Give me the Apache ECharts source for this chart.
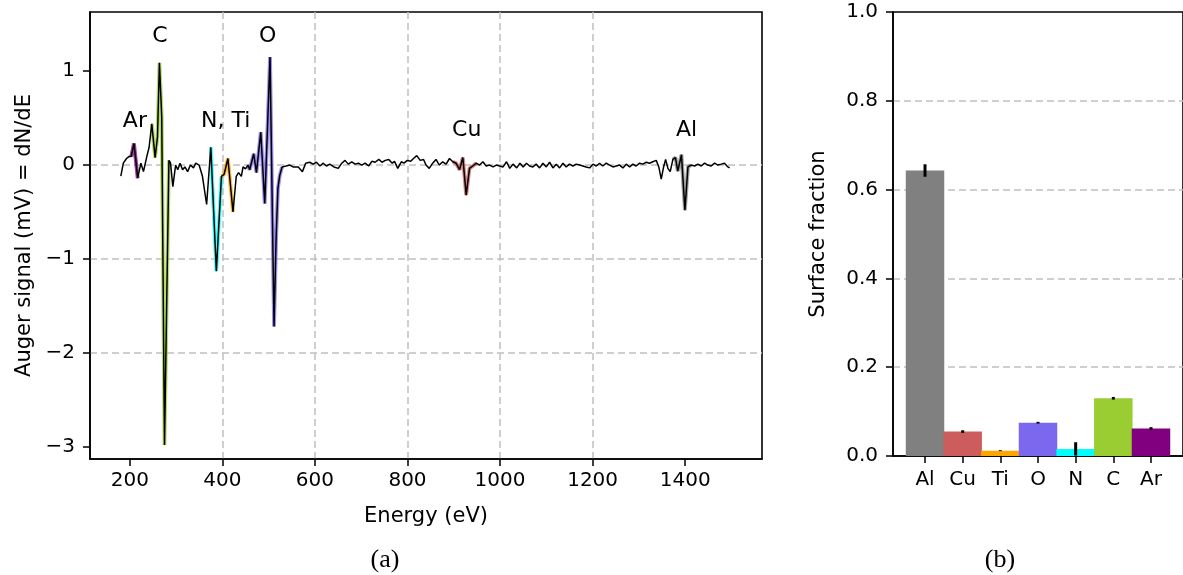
<!DOCTYPE html>
<html>
<head>
<meta charset="utf-8">
<script src="https://cdn.jsdelivr.net/npm/echarts@6/dist/echarts.min.js"></script>
<style>
html,body{margin:0;padding:0;background:#fff;}
#chart{width:1183px;height:575px;}
</style>
</head>
<body>
<div id="chart"></div>
<script>
// ---- Spectrum (a) ----
const energy = [180.6,186,193,198,203,209,213,217,224,229.5,236.7,241.7,247.5,254.7,259.8,264,269,275,284.5,288,293,299,303.6,308.7,314,319,325,331,337.6,342.5,349.7,357,366,375,387,398,403.7,412,423,430,435,441,444.7,450,455.5,459,467.8,473.6,483,491.6,503,511.7,516,520,524,529,537.8,545.6,552.7,556,564,573,580,588.8,596,603.5,610.7,618,625,632,641,650.5,658,665,672,679.6,686.8,694,701,708.7,716,723,730,738,745,752,759.6,767,772,779,786.7,792.5,799.6,807,813,820,827.5,834.7,840,847,854.4,861.6,868.8,876,883.5,890.7,898,905,912.5,919.6,926.8,934,941,948.6,955.8,963,970,977.5,985,992,999,1006.5,1014,1021,1028,1036,1043,1050,1057,1064,1071,1078,1085.5,1092.7,1100,1107,1114.3,1121.5,1128.7,1136,1143,1150,1157.5,1164.7,1172,1179,1186,1193.5,1200.7,1208,1215,1222,1229.5,1236.7,1244,1251,1258,1265.5,1272.7,1280,1287,1294,1301.5,1308.7,1316,1323,1330,1337.5,1343,1348.3,1353.4,1357.7,1362.7,1367.7,1373.5,1379,1384,1392,1399.4,1406,1413,1420.3,1427.5,1434.7,1442,1449,1456.3,1463.5,1470.7,1478,1485,1492.3,1496];
const signal = [-0.117,0.02,0.07,0.09,0.09,0.23,0.05,-0.14,0.02,-0.07,0.09,0.19,0.44,0.08,0.30,1.09,0.51,-2.98,0.05,0.02,-0.23,0.0,-0.05,0.02,-0.05,-0.02,-0.07,0.0,-0.03,0.02,0.0,-0.12,-0.42,0.19,-1.13,-0.12,-0.1,0.07,-0.50,-0.12,-0.08,-0.12,-0.02,-0.04,0.0,-0.05,0.12,-0.08,0.35,-0.41,1.15,-1.72,-0.8,-0.25,-0.11,-0.02,-0.01,0.0,-0.02,-0.035,-0.02,-0.07,0.02,0.03,0.01,0.03,-0.01,0.02,-0.01,0.01,-0.02,-0.035,0.02,0.05,0.01,0.035,0.01,0.02,0,0.02,-0.01,0.04,0.03,0.06,0.03,0.05,0.06,0.02,0.04,-0.035,0.035,0.02,0.05,0.04,0.07,0.10,0.05,0.06,0,-0.035,0.02,0.06,0,0.035,0.01,0.07,0.035,0.02,-0.05,0.08,-0.32,-0.035,-0.01,0.02,0,0.035,-0.01,0,-0.02,0,-0.01,-0.02,0.035,-0.035,0.01,-0.03,0.02,-0.02,0.02,-0.01,-0.02,0.01,-0.03,0.02,-0.02,0.03,-0.03,0.01,-0.03,0.02,-0.02,0.01,-0.01,0.01,0,-0.01,-0.02,-0.03,0.01,-0.01,0.02,-0.01,0.02,0,-0.02,-0.01,0,-0.03,0.01,-0.02,0.01,-0.01,0.02,0.01,0.03,0.02,0.035,0.05,-0.02,-0.15,-0.02,0.06,-0.035,-0.07,0.06,0.08,-0.065,0.11,-0.48,-0.02,0,-0.01,0.01,-0.01,0.02,0,-0.01,0.02,0,0.01,0.02,-0.02,-0.03];

// fitted peak windows (eV)
const peakNames = ['Ar','C','N','Ti','O','Cu','Al'];
const peakLow  = [203,246,370,398,455,898,1370];
const peakHigh = [220,285,398,428,530,950,1416];

// peak annotations
const labelText = ['Ar','C','N, Ti','O','Cu','Al'];
const labelE    = [211,265,407,498,928,1403];
const labelV    = [0.47,1.37,0.47,1.37,0.37,0.37];

const xTicksA = [200,400,600,800,1000,1200,1400];
const yTicksA = [-3,-2,-1,0,1];

// ---- Surface fractions (b) ----
const elements = ['Al','Cu','Ti','O','N','C','Ar'];
const fraction = [0.643,0.055,0.012,0.075,0.016,0.13,0.062];
const fracErr  = [0.014,0.003,0.001,0.002,0.015,0.003,0.003];

// ---- styles ----
const elemColor = {Al:'#808080',Cu:'#cd5c5c',Ti:'#ffa500',O:'#7b68ee',N:'#00ffff',C:'#9acd32',Ar:'#800080'};
const FONT = 'DejaVu Sans';
const TICK_FS = 20, NAME_FS = 21;
const gridLine = {show:true,showMinLine:false,showMaxLine:false,lineStyle:{color:'#c0c0c0',width:1.5,type:[7,4]}};
const axLine = {show:true,onZero:false,lineStyle:{color:'#000',width:1.6}};
const tickStyle = {color:'#000',width:1.5};

const spec = energy.map((e,i)=>[e,signal[i]]);
const peakSeries = peakNames.map((n,k)=>({
  type:'line', xAxisIndex:0, yAxisIndex:0, symbol:'none', silent:true, z:2,
  data: spec.filter(p=>p[0]>=peakLow[k] && p[0]<=peakHigh[k]),
  lineStyle:{color:elemColor[n],width:3.8,opacity:0.75}
}));

const minus = v => String(v).replace('-', '\u2212');

const option = {
  animation:false,
  backgroundColor:'#fff',
  textStyle:{fontFamily:FONT},
  grid:[
    {left:90,top:12,width:672,height:447,show:true,borderColor:'#000',borderWidth:1.6,backgroundColor:'transparent'},
    {left:893,top:12,width:297,height:444,show:true,borderColor:'#000',borderWidth:1.6,backgroundColor:'transparent'}
  ],
  xAxis:[
    {type:'value',gridIndex:0,min:114,max:1566,
     axisLine:axLine,
     axisTick:{show:true,length:7,lineStyle:tickStyle,customValues:xTicksA},
     axisLabel:{customValues:xTicksA,formatter:v=>String(v),color:'#000',fontSize:TICK_FS,fontFamily:FONT,margin:12},
     splitLine:gridLine,
     name:'Energy (eV)',nameLocation:'middle',nameGap:47,nameTextStyle:{color:'#000',fontSize:NAME_FS,fontFamily:FONT}},
    {type:'value',gridIndex:1,min:-0.85,max:6.85,
     axisLine:axLine,
     axisTick:{show:true,length:7,lineStyle:tickStyle,customValues:[0,1,2,3,4,5,6]},
     axisLabel:{customValues:[0,1,2,3,4,5,6],formatter:v=>elements[Math.round(v)],color:'#000',fontSize:TICK_FS,fontFamily:FONT,margin:14},
     splitLine:{show:false}}
  ],
  yAxis:[
    {type:'value',gridIndex:0,min:-3.13,max:1.63,
     axisLine:axLine,
     axisTick:{show:true,length:7,lineStyle:tickStyle,customValues:yTicksA},
     axisLabel:{customValues:yTicksA,formatter:minus,color:'#000',fontSize:TICK_FS,fontFamily:FONT,margin:15},
     splitLine:gridLine,
     name:'Auger signal (mV) = dN/dE',nameLocation:'middle',nameGap:54,nameRotate:90,nameTextStyle:{color:'#000',fontSize:NAME_FS,fontFamily:FONT}},
    {type:'value',gridIndex:1,min:0,max:1,interval:0.2,
     axisLine:axLine,
     axisTick:{show:true,length:7,lineStyle:tickStyle},
     axisLabel:{formatter:v=>v.toFixed(1),color:'#000',fontSize:TICK_FS,fontFamily:FONT,margin:15},
     splitLine:gridLine,
     name:'Surface fraction',nameLocation:'middle',nameGap:64,nameRotate:90,nameTextStyle:{color:'#000',fontSize:NAME_FS,fontFamily:FONT}}
  ],
  series:[
    ...peakSeries,
    {type:'line',xAxisIndex:0,yAxisIndex:0,symbol:'none',silent:true,z:3,
     data:spec,lineStyle:{color:'#000',width:1.5}},
    {type:'scatter',xAxisIndex:0,yAxisIndex:0,symbolSize:0,silent:true,z:4,
     itemStyle:{opacity:1},
     data:labelText.map((t,i)=>({value:[labelE[i],labelV[i]],name:t})),
     label:{show:true,position:'inside',formatter:p=>p.name,color:'#000',opacity:1,fontSize:22,fontFamily:FONT}},
    {type:'bar',xAxisIndex:1,yAxisIndex:1,barWidth:38.5,silent:true,z:2,
     data:elements.map((n,i)=>({value:[i,fraction[i]],itemStyle:{color:elemColor[n]}}))},
    {type:'custom',xAxisIndex:1,yAxisIndex:1,silent:true,z:5,
     data:elements.map((n,i)=>[i,fraction[i],fracErr[i]]),
     renderItem:(params,api)=>{
       const x=api.value(0),y=api.value(1),e=api.value(2);
       const a=api.coord([x,y-e]),b=api.coord([x,y+e]);
       return {type:'line',shape:{x1:a[0],y1:a[1],x2:b[0],y2:b[1]},style:{stroke:'#000',lineWidth:3}};
     }}
  ],
  graphic:[
    {type:'text',x:385,y:560,style:{text:'(a)',fontFamily:'Liberation Serif',fontSize:26,fill:'#000',align:'center',verticalAlign:'middle'}},
    {type:'text',x:1000,y:560,style:{text:'(b)',fontFamily:'Liberation Serif',fontSize:26,fill:'#000',align:'center',verticalAlign:'middle'}}
  ]
};
const chart = echarts.init(document.getElementById('chart'),null,{renderer:'canvas'});
chart.setOption(option);
</script>
</body>
</html>
